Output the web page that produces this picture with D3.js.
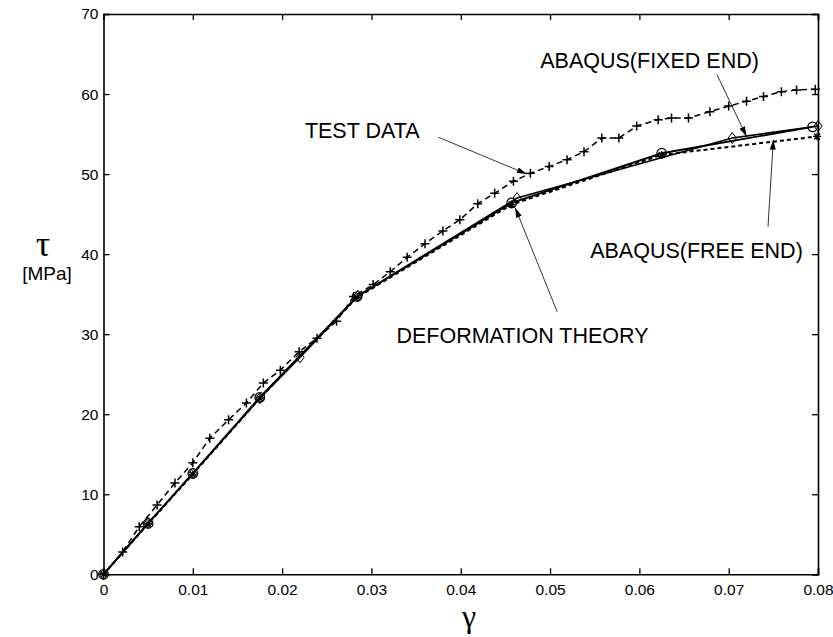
<!DOCTYPE html>
<html><head><meta charset="utf-8">
<script src="https://cdn.jsdelivr.net/npm/d3@7"></script>
<style>body{margin:0;background:#fff}svg{display:block}</style>
</head><body>
<svg id="c" width="833" height="637"></svg>
<script>
// ---- data ----
const xTicks = [0,0.01,0.02,0.03,0.04,0.05,0.06,0.07,0.08];
const xTickLabels = ["0","0.01","0.02","0.03","0.04","0.05","0.06","0.07","0.08"];
const yTicks = [0,10,20,30,40,50,60,70];
const yTickLabels = ["0","10","20","30","40","50","60","70"];

const testGamma = [0,0.00215,0.0040,0.0060,0.0080,0.0100,0.0119,0.0140,0.0160,0.0179,0.0198,0.0219,0.0239,0.0261,0.0280,0.0302,0.0321,0.0340,0.0360,0.0380,0.0399,0.0419,0.0438,0.0459,0.0478,0.0499,0.0519,0.0538,0.0558,0.0577,0.0597,0.0621,0.0636,0.0655,0.0679,0.0700,0.0720,0.0739,0.0759,0.0776,0.0797];
const testTau   = [0,2.8,5.95,8.66,11.4,13.95,17.0,19.3,21.4,23.9,25.5,27.8,29.5,31.6,34.7,36.2,37.8,39.6,41.3,42.9,44.3,46.3,47.6,49.1,50.1,50.95,51.8,52.8,54.5,54.5,56.0,56.8,57.0,57.0,57.8,58.5,59.1,59.7,60.3,60.5,60.6];

const defGamma = [0,0.0050,0.0100,0.0175,0.0284,0.0457,0.0625,0.0794];
const defTau   = [0,6.35,12.6,22.1,34.7,46.4,52.6,55.9];

const fixedGamma = [0,0.0050,0.0100,0.0175,0.0220,0.0285,0.0463,0.0704,0.0800];
const fixedTau   = [0,6.4,12.6,22.0,27.1,34.8,47.0,54.5,56.0];

const freeGamma = [0,0.0050,0.0100,0.0175,0.0284,0.0457,0.0625,0.0799];
const freeTau   = [0,6.3,12.5,22.0,34.6,46.2,52.4,54.7];

// annotations: text anchor (data coords) and arrow from/to (data coords)
const annLabels = ["TEST DATA","ABAQUS(FIXED END)","ABAQUS(FREE END)","DEFORMATION THEORY"];
const annTextPos = [[0.02255,54.5],[0.0489,63.3],[0.0783,39.5],[0.0328,28.9]];
const annAnchor = ["start","start","end","start"];
const annFrom = [[0.0375,54.6],[0.0687,62.4],[0.0744,43.4],[0.0508,32.8]];
const annTo   = [[0.0474,50.0],[0.0720,54.7],[0.0750,54.3],[0.0461,45.8]];

// ---- drawing ----
const svg = d3.select("#c");
const x = d3.scaleLinear().domain([0,0.08]).range([103.5,818]);
const y = d3.scaleLinear().domain([0,70]).range([574.3,14]);
const FONT = "'Liberation Sans', Arial, Helvetica, sans-serif";

svg.append("defs").append("marker")
  .attr("id","ah").attr("viewBox","0 0 10 6").attr("refX",10).attr("refY",3)
  .attr("markerWidth",10).attr("markerHeight",6).attr("markerUnits","userSpaceOnUse")
  .attr("orient","auto")
  .append("path").attr("d","M0,0 L10,3 L0,6 Z").attr("fill","#000");

// axes (inward ticks on all four sides)
const axB = d3.axisBottom(x).tickValues(xTicks).tickSize(-6).tickPadding(10)
  .tickFormat((d,i)=>xTickLabels[i]);
const axL = d3.axisLeft(y).tickValues(yTicks).tickSize(-6).tickPadding(5)
  .tickFormat((d,i)=>yTickLabels[i]);
const axT = d3.axisTop(x).tickValues(xTicks).tickSize(-6).tickFormat("");
const axR = d3.axisRight(y).tickValues(yTicks).tickSize(-6).tickFormat("");

function styleAxis(g){
  g.select(".domain").attr("stroke","#000").attr("stroke-width",1.6);
  g.selectAll(".tick line").attr("stroke","#000").attr("stroke-width",1.3);
  g.selectAll(".tick text").attr("fill","#000").style("font-family",FONT).style("font-size","15.5px");
}
svg.append("g").attr("transform",`translate(0,${y(0)})`).call(axB).call(styleAxis);
svg.append("g").attr("transform",`translate(${x(0)},0)`).call(axL).call(styleAxis);
svg.append("g").attr("transform",`translate(0,${y(70)})`).call(axT).call(styleAxis);
svg.append("g").attr("transform",`translate(${x(0.08)},0)`).call(axR).call(styleAxis);

// lines
const pts = (gs,ts)=>gs.map((g,i)=>[g,ts[i]]);
const line = d3.line().x(d=>x(d[0])).y(d=>y(d[1]));

const test = pts(testGamma,testTau), def = pts(defGamma,defTau),
      fixed = pts(fixedGamma,fixedTau), free = pts(freeGamma,freeTau);

svg.append("path").datum(test).attr("d",line).attr("fill","none")
  .attr("stroke","#000").attr("stroke-width",1.5).attr("stroke-dasharray","6,4");
svg.append("path").datum(free).attr("d",line).attr("fill","none")
  .attr("stroke","#000").attr("stroke-width",2.0).attr("stroke-dasharray","4,3");
svg.append("path").datum(def).attr("d",line).attr("fill","none")
  .attr("stroke","#000").attr("stroke-width",1.9);
svg.append("path").datum(fixed).attr("d",line).attr("fill","none")
  .attr("stroke","#000").attr("stroke-width",1.6);

// markers
const mk = svg.append("g").attr("stroke","#000").attr("fill","none");
mk.selectAll(".plus").data(test).join("path")
  .attr("d",d=>{const cx=x(d[0]),cy=y(d[1]),s=4.5;return `M${cx-s},${cy}H${cx+s}M${cx},${cy-s}V${cy+s}`;})
  .attr("stroke-width",1.5);
mk.selectAll(".circ").data(def).join("circle")
  .attr("cx",d=>x(d[0])).attr("cy",d=>y(d[1])).attr("r",4.8).attr("stroke-width",1.2);
mk.selectAll(".dia").data(fixed).join("path")
  .attr("d",d=>{const cx=x(d[0]),cy=y(d[1]),s=5.5;return `M${cx},${cy-s}L${cx+s*0.75},${cy}L${cx},${cy+s}L${cx-s*0.75},${cy}Z`;})
  .attr("fill","none").attr("stroke-width",1.0);
mk.selectAll(".ast").data(free).join("path")
  .attr("d",d=>{const cx=x(d[0]),cy=y(d[1]),s=4,t=s*0.75;return `M${cx-s},${cy}H${cx+s}M${cx},${cy-s}V${cy+s}M${cx-t},${cy-t}L${cx+t},${cy+t}M${cx-t},${cy+t}L${cx+t},${cy-t}`;})
  .attr("stroke-width",1.2);

// annotations
annLabels.forEach((t,i)=>{
  svg.append("line")
    .attr("x1",x(annFrom[i][0])).attr("y1",y(annFrom[i][1]))
    .attr("x2",x(annTo[i][0])).attr("y2",y(annTo[i][1]))
    .attr("stroke","#000").attr("stroke-width",0.8).attr("marker-end","url(#ah)");
  svg.append("text").attr("x",x(annTextPos[i][0])).attr("y",y(annTextPos[i][1]))
    .attr("text-anchor",annAnchor[i]).style("font-family",FONT).style("font-size","21.5px")
    .attr("fill","#000").text(t);
});

// axis titles
svg.append("text").attr("x",43).attr("y",256).attr("text-anchor","middle")
  .style("font-family","'Liberation Serif','Times New Roman',serif").style("font-size","36px").text("τ");
svg.append("text").attr("x",47).attr("y",280).attr("text-anchor","middle")
  .style("font-family",FONT).style("font-size","19px").text("[MPa]");
svg.append("text").attr("x",469).attr("y",627).attr("text-anchor","middle")
  .style("font-family","'Liberation Serif','Times New Roman',serif").style("font-size","32px").text("γ");
</script>
</body></html>
